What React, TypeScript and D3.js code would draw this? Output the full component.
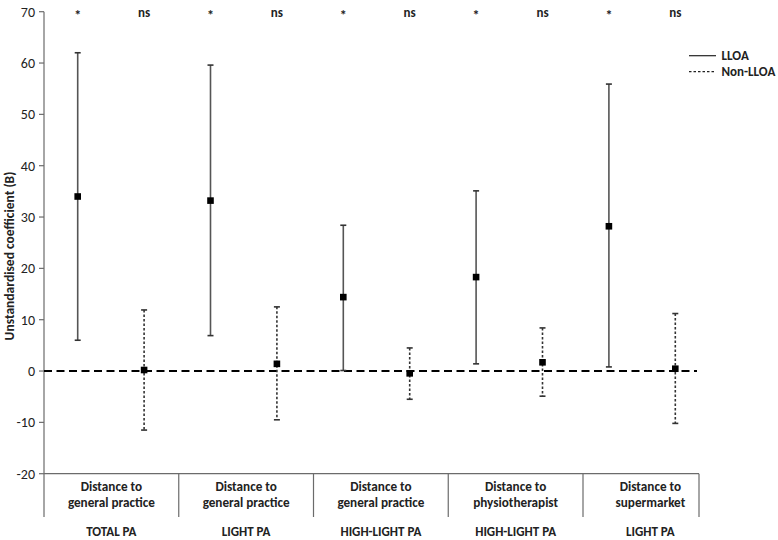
import React from "react";
import * as d3 from "d3";

const groupLines1 = ["Distance to", "Distance to", "Distance to", "Distance to", "Distance to"];
const groupLines2 = ["general practice", "general practice", "general practice", "physiotherapist", "supermarket"];
const outcomes = ["TOTAL PA", "LIGHT PA", "HIGH-LIGHT PA", "HIGH-LIGHT PA", "LIGHT PA"];
const seriesNames = ["LLOA", "Non-LLOA"];

const llPoint = [34.0, 33.2, 14.4, 18.3, 28.2];
const llLower = [6.0, 6.9, 0.1, 1.4, 0.8];
const llUpper = [62.0, 59.6, 28.4, 35.1, 55.9];

const nlPoint = [0.2, 1.4, -0.45, 1.7, 0.45];
const nlLower = [-11.5, -9.5, -5.5, -4.9, -10.2];
const nlUpper = [11.9, 12.5, 4.5, 8.4, 11.2];

const sigLL = ["*", "*", "*", "*", "*"];
const sigNL = ["ns", "ns", "ns", "ns", "ns"];

const yTicks = [-20, -10, 0, 10, 20, 30, 40, 50, 60, 70];

const FONT = "Calibri, Carlito, Lato, 'Open Sans', sans-serif";

export default function App() {
  const W = 778, H = 540;
  const axisX = 44;
  const plotRight = 699;
  const yTop = 11.7, yBottom = 473.7;
  const y = d3.scaleLinear().domain([-20, 70]).range([yBottom, yTop]);

  const keys: string[] = [];
  outcomes.forEach((_, g) => seriesNames.forEach((s) => keys.push(g + "-" + s)));
  const x = d3.scaleBand<string>().domain(keys).range([44.5, 708.5]).padding(0);
  const cx = (g: number, s: number) => (x(g + "-" + seriesNames[s]) as number) + x.bandwidth() / 2;

  const gs = d3.scaleBand<number>().domain(d3.range(5)).range([44, 717.75]).padding(0);

  const cap = 3;
  const boxBottom = 517;

  const series = [
    { p: llPoint, lo: llLower, hi: llUpper, dash: null as string | null, sig: sigLL },
    { p: nlPoint, lo: nlLower, hi: nlUpper, dash: "2.5,2" as string | null, sig: sigNL },
  ];

  return (
    <svg width={W} height={H} style={{ position: "absolute", left: 0, top: 0, background: "#fff" }} fontFamily={FONT}>
      {/* y axis */}
      <line x1={axisX} x2={axisX} y1={y(70)} y2={boxBottom} stroke="#6b6b6b" strokeWidth={1.2} />
      {yTicks.map((t) => (
        <g key={t}>
          <line x1={axisX - 5} x2={axisX} y1={y(t)} y2={y(t)} stroke="#6b6b6b" strokeWidth={1.2} />
          <text x={axisX - 9} y={y(t)} dy="0.36em" textAnchor="end" fontSize={14} fill="#222">
            {t}
          </text>
        </g>
      ))}
      <text
        transform={`translate(14,${256}) rotate(-90)`}
        textAnchor="middle"
        fontSize={13.5}
        fontWeight="bold"
        fill="#222"
      >
        Unstandardised coefficient (B)
      </text>

      {/* category axis box */}
      <line x1={axisX} x2={plotRight} y1={yBottom} y2={yBottom} stroke="#6b6b6b" strokeWidth={1.2} />
      {d3.range(5).map((g) => {
        const x1 = Math.min((gs(g) as number) + gs.bandwidth(), plotRight);
        const xc = (gs(g) as number) + gs.bandwidth() / 2;
        return (
          <g key={g}>
            <line x1={x1} x2={x1} y1={yBottom} y2={boxBottom} stroke="#6b6b6b" strokeWidth={1.2} />
            <text x={xc} y={491} textAnchor="middle" fontSize={13.2} fontWeight="bold" fill="#222">
              {groupLines1[g]}
            </text>
            <text x={xc} y={507} textAnchor="middle" fontSize={13.2} fontWeight="bold" fill="#222">
              {groupLines2[g]}
            </text>
            <text x={xc} y={536} textAnchor="middle" fontSize={13} fontWeight="bold" fill="#222">
              {outcomes[g]}
            </text>
          </g>
        );
      })}

      {/* zero reference line */}
      <line x1={axisX} x2={697} y1={y(0)} y2={y(0)} stroke="#000" strokeWidth={2} strokeDasharray="8,4.5" />

      {/* error bars */}
      {series.map((s, si) =>
        outcomes.map((_, g) => {
          const px = cx(g, si);
          return (
            <g key={si + "-" + g}>
              <line x1={px} x2={px} y1={y(s.hi[g])} y2={y(s.lo[g])} stroke={si === 0 ? "#555" : "#333"} strokeWidth={1.6}
                strokeDasharray={s.dash ?? undefined} />
              <line x1={px - cap} x2={px + cap} y1={y(s.hi[g])} y2={y(s.hi[g])} stroke="#333" strokeWidth={1.6} />
              <line x1={px - cap} x2={px + cap} y1={y(s.lo[g])} y2={y(s.lo[g])} stroke="#333" strokeWidth={1.6} />
              <rect x={px - 3.3} y={y(s.p[g]) - 3.3} width={6.6} height={6.6} fill="#000" />
              <text x={px} y={si === 0 ? 20 : 16.5} textAnchor="middle" fontSize={si === 0 ? 14 : 13} fontWeight="bold" fill="#222">
                {s.sig[g]}
              </text>
            </g>
          );
        })
      )}

      {/* legend */}
      <line x1={689} x2={716} y1={55.7} y2={55.7} stroke="#222" strokeWidth={1.2} />
      <text x={721.5} y={55.7} dy="0.36em" fontSize={13} fontWeight="bold" fill="#222">{seriesNames[0]}</text>
      <line x1={689} x2={716} y1={71.7} y2={71.7} stroke="#222" strokeWidth={1.2} strokeDasharray="2.5,2" />
      <text x={721.5} y={71.7} dy="0.36em" fontSize={13} fontWeight="bold" fill="#222">{seriesNames[1]}</text>
    </svg>
  );
}
